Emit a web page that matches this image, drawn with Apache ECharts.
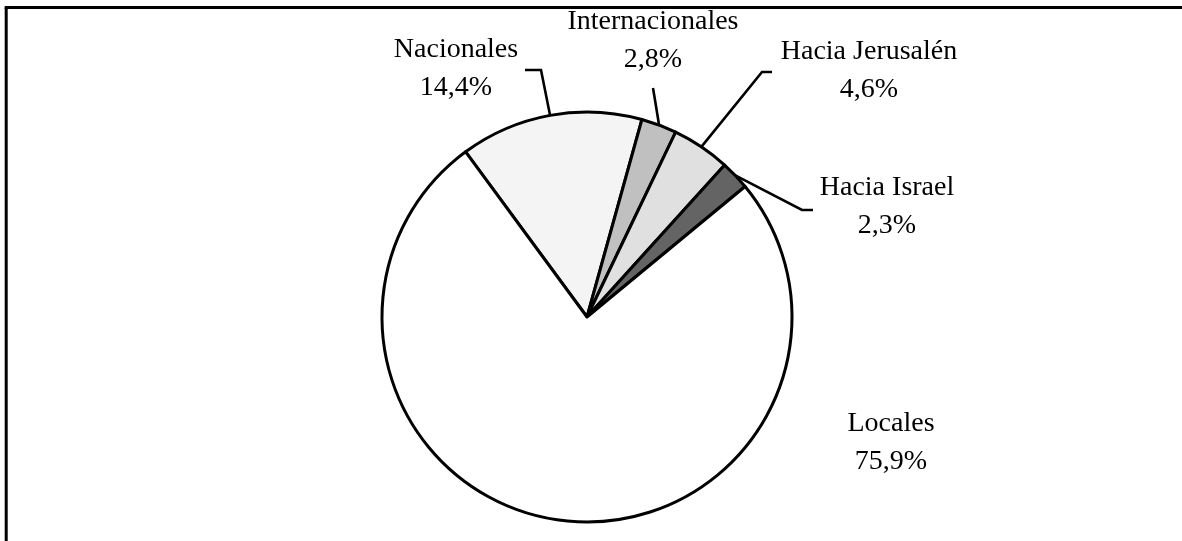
<!DOCTYPE html>
<html>
<head>
<meta charset="utf-8">
<script src="https://cdn.jsdelivr.net/npm/echarts@6/dist/echarts.min.js"></script>
<style>
html,body{margin:0;padding:0;background:#fff;}
#chart{width:1182px;height:541px;}
</style>
</head>
<body>
<div id="chart"></div>
<script>
// Data
var categories = ['Nacionales', 'Internacionales', 'Hacia Jerusalén', 'Hacia Israel', 'Locales'];
var values = [14.4, 2.8, 4.6, 2.3, 75.9];

// Styles
var fills = ['#f4f4f4', '#c0c0c0', '#e0e0e0', '#646464', '#ffffff'];
// Label placement (pixel centres of the two-line label blocks) and leader-line bends
var labelCenters = [[456, 69], [653, 41], [869, 71], [887, 207], [891, 443]];
var leaderBends = [
  [[541, 70], [525, 70]],
  [[655, 100], [653, 88]],
  [[762, 72], [772, 72]],
  [[802, 210], [813, 210]],
  null
];

function fmt(v) { return v.toFixed(1).replace('.', ',') + '%'; }

var chart = echarts.init(document.getElementById('chart'), null, {renderer: 'canvas'});

var data = categories.map(function (c, i) {
  return {
    name: c,
    value: values[i],
    itemStyle: {color: fills[i]},
    labelLine: {show: leaderBends[i] !== null}
  };
});

chart.setOption({
  animation: false,
  backgroundColor: '#ffffff',
  graphic: [
    {type: 'line', shape: {x1: 6.2, y1: 7.4, x2: 6.2, y2: 545}, style: {stroke: '#000', lineWidth: 3}},
    {type: 'line', shape: {x1: 4.7, y1: 7.4, x2: 1190, y2: 7.4}, style: {stroke: '#000', lineWidth: 3}}
  ],
  series: [{
    type: 'pie',
    center: [587, 317],
    radius: 205,
    startAngle: 126.3,
    clockwise: true,
    avoidLabelOverlap: false,
    itemStyle: {borderColor: '#000', borderWidth: 3},
    emphasis: {disabled: true},
    label: {
      show: true,
      position: 'outside',
      formatter: function (p) { return p.name + '\n' + fmt(p.value); },
      fontFamily: '"Liberation Serif", "Times New Roman", serif',
      fontSize: 28,
      lineHeight: 38,
      color: '#000',
      align: 'center'
    },
    labelLine: {
      show: true,
      length: 20,
      length2: 10,
      lineStyle: {color: '#000', width: 2.6}
    },
    labelLayout: function (params) {
      var i = params.dataIndex;
      var out = {
        x: labelCenters[i][0],
        y: labelCenters[i][1],
        align: 'center',
        verticalAlign: 'middle'
      };
      if (leaderBends[i] && params.labelLinePoints) {
        out.labelLinePoints = [params.labelLinePoints[0]].concat(leaderBends[i]);
      }
      return out;
    },
    data: data
  }]
});
</script>
</body>
</html>
